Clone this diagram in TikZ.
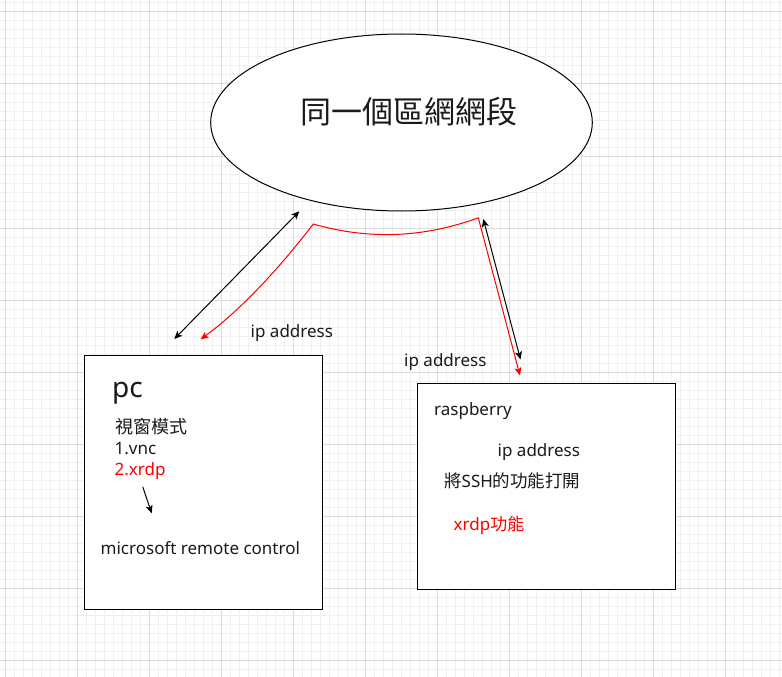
\documentclass[tikz,border=0pt]{standalone}
\usepackage{fontspec}
\setmainfont{Noto Sans}
\newfontfamily\cjk{Noto Sans CJK TC}
\usetikzlibrary{shapes.geometric,arrows.meta}
\definecolor{gmin}{HTML}{F0F0F0}
\definecolor{gmaj}{HTML}{DCDCDC}
\definecolor{dred}{HTML}{FF0000}
\definecolor{ink}{HTML}{1A1A1A}
\begin{document}
\begin{tikzpicture}[x=1pt,y=-1pt,
  minorgrid/.style={draw=gmin,line width=1pt},
  majorgrid/.style={draw=gmaj,line width=1pt},
  shapebox/.style={draw=black,fill=white,line width=1pt,inner sep=0pt},
  txt/.style={inner sep=0pt,anchor=base west,text=ink,font=\fontsize{17}{20}\selectfont},
  redtxt/.style={txt,text=dred},
  tipshape/.style={},
  blackarrow/.style={draw=black,line width=1pt,{Stealth[length=8pt,width=7pt,inset=2pt]}-{Stealth[length=8pt,width=7pt,inset=2pt]}},
  redarrow/.style={draw=dred,line width=1pt,{Stealth[length=8pt,width=7pt,inset=2pt]}-{Stealth[length=8pt,width=7pt,inset=2pt]}},
  onearrow/.style={draw=black,line width=1pt,-{Stealth[length=8pt,width=7pt,inset=2pt]}}
]
\useasboundingbox (0,0) rectangle (782,677);
\fill[white] (0,0) rectangle (782,677);
% grid
\foreach \i in {0,...,86} \draw[minorgrid] ({5+9*\i},0) -- ({5+9*\i},677);
\foreach \j in {0,...,74} \draw[minorgrid] (0,{3+9*\j}) -- (782,{3+9*\j});
\foreach \i in {0,...,10} \draw[majorgrid] ({5+72*\i},0) -- ({5+72*\i},677);
\foreach \j in {0,...,9} \draw[majorgrid] (0,{12+72*\j}) -- (782,{12+72*\j});

% ellipse
\node[shapebox,ellipse,minimum width=381.6pt,minimum height=177pt] (net) at (401.5,122.5) {};
\node[inner sep=0pt,text=ink,font=\cjk\fontsize{31}{36}\selectfont] (nettext) at (408.5,111.5) {同一個區網網段};

% boxes
\node[shapebox,rectangle,minimum width=237.3pt,minimum height=253.3pt] (pcbox) at (203.35,482.35) {};
\node[shapebox,rectangle,minimum width=258.4pt,minimum height=205.3pt] (rpbox) at (546.5,486.35) {};

% pc texts
\node[txt,font=\fontsize{28}{32}\selectfont] (pc) at (112,397.7) {pc};
\node[txt,font=\cjk\fontsize{18}{22}\selectfont] (mode) at (115.5,433) {視窗模式};
\node[txt] (vnc) at (114.5,454.3) {1.vnc};
\node[redtxt] (xrdp) at (114.5,475) {2.xrdp};
\node[txt] (msrc) at (100.5,554) {microsoft remote control};
\coordinate (pa) at (142.7,486.7);
\coordinate (pb) at (151.7,513.3);
\draw[onearrow] (pa) -- (pb);

% raspberry texts
\node[txt] (rasp) at (434,415) {raspberry};
\node[txt] (rip) at (497.5,456) {ip address};
\node[txt] (ssh) at (444,487.5) {{\cjk\fontsize{17.5}{20}\selectfont 將}SSH{\cjk\fontsize{17.5}{20}\selectfont 的功能打開}};
\node[redtxt] (rx) at (453.5,530) {xrdp{\cjk 功能}};

% outside labels
\node[txt] (ip1) at (250.5,337.3) {ip address};
\node[txt] (ip2) at (404,366.7) {ip address};

% connectors
\coordinate (a1) at (174.3,339);
\coordinate (b1) at (299.3,211.3);
\draw[blackarrow] (a1) -- (b1);
\coordinate (a2) at (483.3,219);
\coordinate (b2) at (520.5,359.5);
\draw[blackarrow] (a2) -- (b2);
\coordinate (r1) at (200.7,339.3);
\coordinate (r2) at (313.3,224);
\coordinate (r3) at (478.3,217.8);
\coordinate (r4) at (520,375.5);
\draw[redarrow] (r1) .. controls (237.6,312.2) and (275,273.8) .. (r2)
  .. controls (368.8,240) and (423.8,237.8) .. (r3) -- (r4);
\end{tikzpicture}
\end{document}
